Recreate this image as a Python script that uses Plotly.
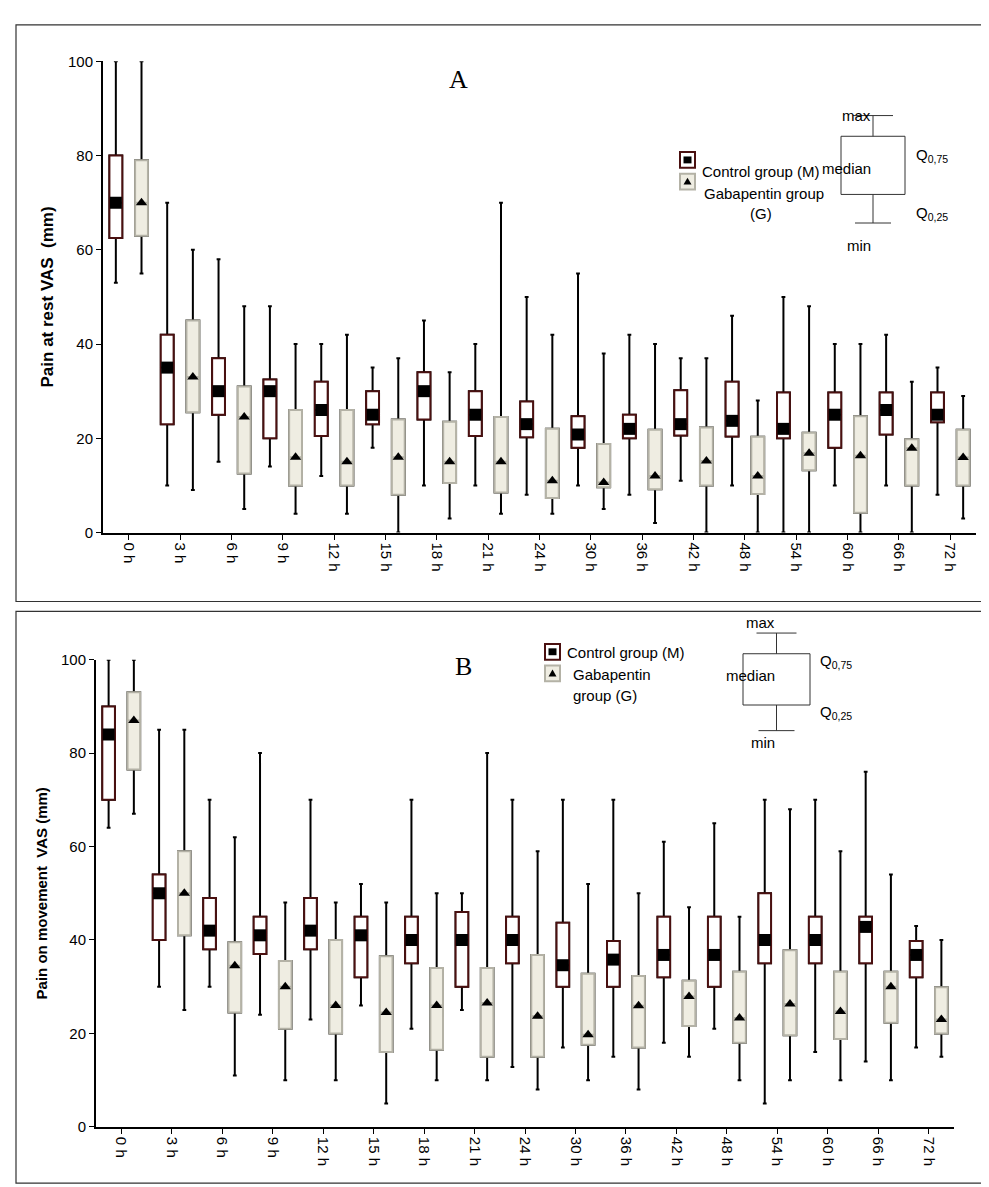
import plotly.graph_objects as go

W, H = 989, 1187

hours = ["0 h", "3 h", "6 h", "9 h", "12 h", "15 h", "18 h", "21 h", "24 h",
         "30 h", "36 h", "42 h", "48 h", "54 h", "60 h", "66 h", "72 h"]

# panel A - pain at rest: max, q3, median, q1, min
a_m_max = [100, 70, 58, 48, 40, 35, 45, 40, 50, 55, 42, 37, 46, 50, 40, 42, 35]
a_m_q3 = [80, 42, 37, 32.5, 32, 30, 34, 30, 27.8, 24.7, 25, 30.2, 32, 29.7, 29.7, 29.7, 29.7]
a_m_med = [70, 35, 30, 30, 26, 25, 30, 25, 23, 20.8, 22, 23, 23.7, 22, 25, 26, 25]
a_m_q1 = [62.5, 23, 25, 20, 20.5, 23, 24, 20.5, 20.2, 18, 20, 20.6, 20.4, 20, 18, 20.8, 23.4]
a_m_min = [53, 10, 15, 14, 12, 18, 10, 10, 8, 10, 8, 11, 10, 0, 10, 10, 8]

a_g_max = [100, 60, 48, 40, 42, 37, 34, 70, 42, 38, 40, 37, 28, 48, 40, 32, 29]
a_g_q3 = [79, 45, 31, 26, 26, 24, 23.5, 24.5, 22, 18.8, 21.8, 22.3, 20.3, 21.2, 24.7, 19.8, 21.8]
a_g_med = [70, 33, 24.5, 16, 15, 16, 15, 15, 11, 10.6, 12, 15.2, 12, 16.8, 16.3, 17.9, 15.9]
a_g_q1 = [63, 25.5, 12.5, 10, 10, 8, 10.5, 8.5, 7.3, 9.6, 9.2, 10, 8.2, 13.2, 4.2, 10, 10]
a_g_min = [55, 9, 5, 4, 4, 0, 3, 4, 4, 5, 2, 0, 0, 0, 0, 0, 3]

# panel B - pain on movement
b_m_max = [100, 85, 70, 80, 70, 52, 70, 50, 70, 70, 70, 61, 65, 70, 70, 76, 43]
b_m_q3 = [90, 54, 49, 45, 49, 45, 45, 46, 45, 43.7, 39.8, 45, 45, 50, 45, 45, 39.8]
b_m_med = [84, 50, 42, 41, 42, 41, 40, 40, 40, 34.6, 35.8, 36.8, 36.8, 40, 40, 42.8, 36.8]
b_m_q1 = [70, 40, 38, 37, 38, 32, 35, 30, 35, 30, 30, 32, 30, 35, 35, 35, 32]
b_m_min = [64, 30, 30, 24, 23, 26, 21, 25, 12.8, 17, 15, 18, 21, 5, 16, 14, 17]

b_g_max = [100, 85, 62, 48, 48, 48, 50, 80, 59, 52, 50, 47, 45, 68, 59, 54, 40]
b_g_q3 = [93, 59, 39.5, 35.5, 40, 36.5, 34, 34, 36.8, 32.8, 32.3, 31.3, 33.2, 37.8, 33.2, 33.2, 29.9]
b_g_med = [87, 50, 34.5, 30, 26, 24.5, 26, 26.5, 23.7, 19.7, 25.9, 27.9, 23.3, 26.3, 24.7, 30, 23]
b_g_q1 = [76.5, 41, 24.5, 21, 20, 16, 16.5, 15, 15, 17.6, 17, 21.6, 18, 19.6, 18.8, 22.3, 20]
b_g_min = [67, 25, 11, 10, 10, 5, 10, 10, 8, 10, 8, 15, 10, 10, 10, 10, 15]

idx = list(range(len(hours)))
M_LINE, M_FILL = "#4a1010", "white"
G_LINE, G_FILL = "#b4b2a6", "#efede2"


def px(x):
    return x / W


def py(y):
    return 1 - y / H


fig = go.Figure()


def add_panel(xa, ya, groups):
    for off, mx, q3, med, q1, mn, line, fill, sym, msize, name in groups:
        xs = [i + off for i in idx]
        # black whiskers first, coloured box on top hides their middle
        fig.add_trace(go.Box(
            x=xs, q1=q1, median=med, q3=q3, lowerfence=mn, upperfence=mx,
            width=0.25, whiskerwidth=0.3, line=dict(color="black", width=2), fillcolor=fill,
            xaxis=xa, yaxis=ya, showlegend=False, name=name, hoverinfo="skip"))
        fig.add_trace(go.Box(
            x=xs, q1=q1, median=med, q3=q3, lowerfence=q1, upperfence=q3,
            width=0.25, line=dict(color=line, width=2), fillcolor=fill,
            xaxis=xa, yaxis=ya, showlegend=False, name=name))
        fig.add_trace(go.Scatter(
            x=xs, y=med, mode="markers",
            marker=dict(symbol=sym, size=msize, color="black", line=dict(width=0)),
            xaxis=xa, yaxis=ya, showlegend=False, hoverinfo="skip"))


add_panel("x", "y", [
    (-0.25, a_m_max, a_m_q3, a_m_med, a_m_q1, a_m_min, M_LINE, M_FILL, "square", 12, "M"),
    (0.25, a_g_max, a_g_q3, a_g_med, a_g_q1, a_g_min, G_LINE, G_FILL, "triangle-up", 10, "G"),
])
add_panel("x2", "y2", [
    (-0.25, b_m_max, b_m_q3, b_m_med, b_m_q1, b_m_min, M_LINE, M_FILL, "square", 12, "M"),
    (0.25, b_g_max, b_g_q3, b_g_med, b_g_q1, b_g_min, G_LINE, G_FILL, "triangle-up", 10, "G"),
])

ax_common = dict(showgrid=False, zeroline=False, showline=True, linecolor="black",
                 linewidth=2, ticks="outside", ticklen=5, tickcolor="black",
                 tickfont=dict(family="Liberation Sans", size=15, color="black"))
xcommon = dict(ax_common, tickvals=idx, ticktext=hours, tickangle=90, range=[-0.5, 16.5])
ycommon = dict(ax_common, range=[0, 100], tickvals=[0, 20, 40, 60, 80, 100])

fig.update_layout(
    width=W, height=H, margin=dict(l=0, r=0, t=0, b=0),
    plot_bgcolor="white", paper_bgcolor="white", boxmode="overlay",
    xaxis=dict(xcommon, domain=[px(95), px(968)], anchor="y"),
    yaxis=dict(ycommon, domain=[py(523), py(45)], anchor="x",
               title=dict(text="<b>Pain at rest VAS  (mm)</b>",
                          font=dict(family="Liberation Sans", size=17, color="black"), standoff=10)),
    xaxis2=dict(xcommon, domain=[px(88), px(946)], anchor="y2"),
    yaxis2=dict(ycommon, domain=[py(1126), py(652)], anchor="x2",
                title=dict(text="<b>Pain on movement  VAS (mm)</b>",
                           font=dict(family="Liberation Sans", size=15, color="black"), standoff=10)),
)

shapes = [
    dict(type="rect", xref="paper", yref="paper", x0=px(8), x1=px(985), y0=py(593), y1=py(8),
         line=dict(color="#333", width=1.2)),
    dict(type="rect", xref="paper", yref="paper", x0=px(8), x1=px(985), y0=py(1183), y1=py(603),
         line=dict(color="#333", width=1.2)),
]
anns = []
txt = dict(family="Liberation Sans", size=15, color="black")


def legend(lx, ly, lines_g, panel_letter, letter_xy, bx0, bx1, by0, by1, wt, wb, qx):
    shapes.append(dict(type="rect", xref="paper", yref="paper", x0=px(lx), x1=px(lx + 15),
                       y0=py(ly + 16), y1=py(ly), line=dict(color=M_LINE, width=2), fillcolor="white"))
    shapes.append(dict(type="rect", xref="paper", yref="paper", x0=px(lx + 3.5), x1=px(lx + 11.5),
                       y0=py(ly + 11.5), y1=py(ly + 4.5), line=dict(width=0), fillcolor="black"))
    shapes.append(dict(type="rect", xref="paper", yref="paper", x0=px(lx), x1=px(lx + 15),
                       y0=py(ly + 38), y1=py(ly + 22), line=dict(color=G_LINE, width=2), fillcolor=G_FILL))
    shapes.append(dict(type="path", xref="paper", yref="paper",
                       path=f"M {px(lx+3.5)} {py(ly+33)} L {px(lx+11.5)} {py(ly+33)} L {px(lx+7.5)} {py(ly+26)} Z",
                       fillcolor="black", line=dict(width=0)))
    anns.append(dict(x=px(lx + 20), y=py(ly + 9), text="Control group (M)", xanchor="left"))
    for k, t in enumerate(lines_g):
        anns.append(dict(x=px(t[1]), y=py(ly + 31 + 21 * k), text=t[0], xanchor="left"))
    anns.append(dict(x=px(letter_xy[0]), y=py(letter_xy[1]), text=panel_letter,
                     font=dict(family="Liberation Serif", size=26, color="black")))
    cx = (bx0 + bx1) / 2
    for s in [dict(type="rect", x0=px(bx0), x1=px(bx1), y0=py(by1), y1=py(by0)),
              dict(type="line", x0=px(cx), x1=px(cx), y0=py(by0), y1=py(wt)),
              dict(type="line", x0=px(cx - 20), x1=px(cx + 20), y0=py(wt), y1=py(wt)),
              dict(type="line", x0=px(cx), x1=px(cx), y0=py(by1), y1=py(wb)),
              dict(type="line", x0=px(cx - 18), x1=px(cx + 18), y0=py(wb), y1=py(wb))]:
        s.update(xref="paper", yref="paper", line=dict(color="#333", width=1))
        shapes.append(s)
    anns.append(dict(x=px(cx), y=py(wt - 11), text="max"))
    anns.append(dict(x=px(cx), y=py(wb + 12), text="min"))
    anns.append(dict(x=px(cx), y=py(by0 + 22), text="median"))
    anns.append(dict(x=px(qx), y=py(by0 + 8), text="Q<sub>0,75</sub>", xanchor="left"))
    anns.append(dict(x=px(qx), y=py(by1 + 8), text="Q<sub>0,25</sub>", xanchor="left"))


legend(672, 137, [("Gabapentin group", 694), ("(G)", 740)], "A", (450, 47),
       833, 897, 121, 180, 100, 209, 906)
legend(537, 636, [("Gabapentin", 563), ("group (G)", 563)], "B", (455, 659),
       735, 802, 646, 698, 625, 724, 810)

for a in anns:
    a.setdefault("font", txt)
    a.update(xref="paper", yref="paper", showarrow=False)

fig.update_layout(shapes=shapes, annotations=anns)
fig.write_html("out.html")
